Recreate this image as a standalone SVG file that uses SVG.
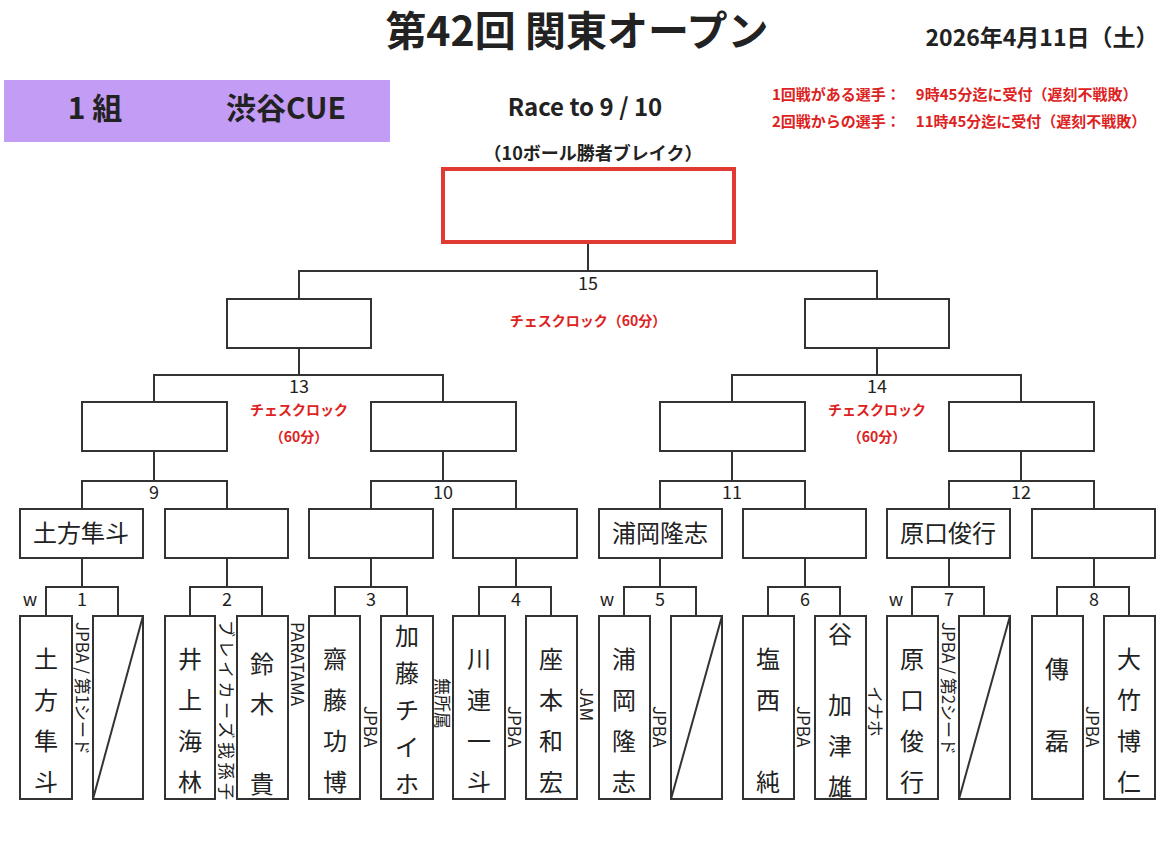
<svg xmlns="http://www.w3.org/2000/svg" width="1170" height="841" viewBox="0 0 1170 841">
<style>
text{font-family:"Noto Sans CJK JP","Noto Sans",sans-serif;fill:#222}
.b{fill:#fff;stroke:#333;stroke-width:2}
.l{fill:none;stroke:#333;stroke-width:2}
.n{font-size:18px;text-anchor:middle}
.nm{font-size:24px;text-anchor:middle}
.r{fill:#d22;font-weight:bold;font-size:15px}
.cc{fill:#d22;font-weight:bold;font-size:14px;text-anchor:middle}
.af{font-size:17px}
</style>
<rect width="1170" height="841" fill="#fff"/>
<g id="header">
<text x="577" y="46" font-size="41" font-weight="bold" text-anchor="middle">第42回 関東オープン</text>
<text x="1042" y="46" font-size="23" font-weight="bold" text-anchor="middle">2026年4月11日（土）</text>
<rect x="4" y="80" width="386" height="62" fill="#c39cf5"/>
<text x="95" y="119" font-size="30" font-weight="bold" text-anchor="middle">1 組</text>
<text x="286" y="119" font-size="30" font-weight="bold" text-anchor="middle">渋谷CUE</text>
<text x="585" y="116" font-size="24" font-weight="bold" text-anchor="middle">Race to 9 / 10</text>
<text x="593" y="160" font-size="18" font-weight="bold" text-anchor="middle">（10ボール勝者ブレイク）</text>
<text class="r" x="772" y="100">1回戦がある選手：　9時45分迄に受付（遅刻不戦敗）</text>
<text class="r" x="772" y="127">2回戦からの選手：　11時45分迄に受付（遅刻不戦敗）</text>
</g>
<g id="connectors">
<path class="l" d="M588 243V271M299 299V271H877V299M299 348V375M154 402V375H443V402M877 348V375M732 402V375H1021V402"/>
<path class="l" d="M154 451V481M82 509V481H227V509M443 451V481M371 509V481H516V509M732 451V481M660 509V481H805V509M1021 451V481M949 509V481H1094V509"/>
<path class="l" d="M82 558V587M46 616V587H118V616M227 558V587M190 616V587H262V616M371 558V587M335 616V587H407V616M516 558V587M479 616V587H551V616M660 558V587M624 616V587H696V616M805 558V587M768 616V587H840V616M949 558V587M912 616V587H984V616M1094 558V587M1057 616V587H1129V616"/>
</g>
<g id="labels">
<text class="n" x="588" y="290">15</text>
<text class="cc" x="588" y="326">チェスクロック（60分）</text>
<text class="n" x="299" y="393">13</text>
<text class="cc" x="299" y="415">チェスクロック</text>
<text class="cc" x="299" y="442">（60分）</text>
<text class="n" x="877" y="393">14</text>
<text class="cc" x="877" y="415">チェスクロック</text>
<text class="cc" x="877" y="442">（60分）</text>
<text class="n" x="154" y="499">9</text><text class="n" x="443" y="499">10</text><text class="n" x="732" y="499">11</text><text class="n" x="1021" y="499">12</text>
<text class="n" x="82" y="606">1</text><text class="n" x="227" y="606">2</text><text class="n" x="371" y="606">3</text><text class="n" x="516" y="606">4</text><text class="n" x="660" y="606">5</text><text class="n" x="805" y="606">6</text><text class="n" x="949" y="606">7</text><text class="n" x="1094" y="606">8</text>
<text class="n" x="30" y="606">w</text><text class="n" x="607" y="606">w</text><text class="n" x="896" y="606">w</text>
</g>
<g id="final"><rect x="443" y="169" width="291" height="73" fill="#fff" stroke="#e03a32" stroke-width="4"/></g>
<g id="r4"><rect class="b" x="227" y="299" width="144" height="49"/><rect class="b" x="805" y="299" width="144" height="49"/></g>
<g id="r3"><rect class="b" x="82" y="402" width="145" height="49"/><rect class="b" x="371" y="402" width="145" height="49"/><rect class="b" x="660" y="402" width="145" height="49"/><rect class="b" x="949" y="402" width="145" height="49"/></g>
<g id="r2">
<rect class="b" x="20" y="509" width="123" height="49"/><text class="nm" x="81" y="542" font-size="22">土方隼斗</text>
<rect class="b" x="165" y="509" width="123" height="49"/>
<rect class="b" x="309" y="509" width="124" height="49"/>
<rect class="b" x="453" y="509" width="124" height="49"/>
<rect class="b" x="599" y="509" width="123" height="49"/><text class="nm" x="660" y="542" font-size="22">浦岡隆志</text>
<rect class="b" x="743" y="509" width="123" height="49"/>
<rect class="b" x="887" y="509" width="123" height="49"/><text class="nm" x="948" y="542" font-size="22">原口俊行</text>
<rect class="b" x="1032" y="509" width="123" height="49"/>
</g>
<g id="players">
<rect class="b" x="20" y="616" width="52" height="183"/><rect class="b" x="93" y="616" width="50" height="183"/><path class="l" d="M93 799L143 616"/>
<rect class="b" x="165" y="616" width="50" height="183"/><rect class="b" x="237" y="616" width="51" height="183"/>
<rect class="b" x="309" y="616" width="51" height="183"/><rect class="b" x="381" y="616" width="52" height="183"/>
<rect class="b" x="453" y="616" width="52" height="183"/><rect class="b" x="526" y="616" width="51" height="183"/>
<rect class="b" x="599" y="616" width="51" height="183"/><rect class="b" x="671" y="616" width="51" height="183"/><path class="l" d="M671 799L722 616"/>
<rect class="b" x="743" y="616" width="51" height="183"/><rect class="b" x="815" y="616" width="51" height="183"/>
<rect class="b" x="887" y="616" width="51" height="183"/><rect class="b" x="959" y="616" width="51" height="183"/><path class="l" d="M959 799L1010 616"/>
<rect class="b" x="1032" y="616" width="51" height="183"/><rect class="b" x="1104" y="616" width="51" height="183"/>
<g>
<text class="nm"><tspan x="46" y="668">土</tspan><tspan x="46" y="709">方</tspan><tspan x="46" y="750">隼</tspan><tspan x="46" y="791">斗</tspan></text>
<text class="nm"><tspan x="190" y="668">井</tspan><tspan x="190" y="709">上</tspan><tspan x="190" y="750">海</tspan><tspan x="190" y="791">林</tspan></text>
<text class="nm"><tspan x="262" y="673">鈴</tspan><tspan x="262" y="713">木</tspan><tspan x="262" y="793">貴</tspan></text>
<text class="nm"><tspan x="335" y="668">齋</tspan><tspan x="335" y="709">藤</tspan><tspan x="335" y="750">功</tspan><tspan x="335" y="791">博</tspan></text>
<text class="nm"><tspan x="407" y="645">加</tspan><tspan x="407" y="682">藤</tspan><tspan x="407" y="719">チ</tspan><tspan x="407" y="756">イ</tspan><tspan x="407" y="793">ホ</tspan></text>
<text class="nm"><tspan x="479" y="668">川</tspan><tspan x="479" y="709">連</tspan><tspan x="479" y="750">一</tspan><tspan x="479" y="791">斗</tspan></text>
<text class="nm"><tspan x="551" y="668">座</tspan><tspan x="551" y="709">本</tspan><tspan x="551" y="750">和</tspan><tspan x="551" y="791">宏</tspan></text>
<text class="nm"><tspan x="624" y="668">浦</tspan><tspan x="624" y="709">岡</tspan><tspan x="624" y="750">隆</tspan><tspan x="624" y="791">志</tspan></text>
<text class="nm"><tspan x="768" y="668">塩</tspan><tspan x="768" y="709">西</tspan><tspan x="768" y="791">純</tspan></text>
<text class="nm"><tspan x="840" y="643">谷</tspan><tspan x="840" y="714">加</tspan><tspan x="840" y="755">津</tspan><tspan x="840" y="796">雄</tspan></text>
<text class="nm"><tspan x="912" y="668">原</tspan><tspan x="912" y="709">口</tspan><tspan x="912" y="750">俊</tspan><tspan x="912" y="791">行</tspan></text>
<text class="nm"><tspan x="1057" y="678">傳</tspan><tspan x="1057" y="750">磊</tspan></text>
<text class="nm"><tspan x="1129" y="668">大</tspan><tspan x="1129" y="709">竹</tspan><tspan x="1129" y="750">博</tspan><tspan x="1129" y="791">仁</tspan></text>
</g>
<g>
<text class="af" transform="translate(76 622) rotate(90)">JPBA / 第1シード</text>
<text class="af" transform="translate(220 620) rotate(90)" textLength="180" font-size="15">ブレイカーズ我孫子</text>
<text class="af" transform="translate(291 622) rotate(90)">PARATAMA</text>
<text class="af" transform="translate(364 706) rotate(90)">JPBA</text>
<text class="af" transform="translate(436 678) rotate(90)">無所属</text>
<text class="af" transform="translate(508 706) rotate(90)">JPBA</text>
<text class="af" transform="translate(580 688) rotate(90)">JAM</text>
<text class="af" transform="translate(653 706) rotate(90)">JPBA</text>
<text class="af" transform="translate(797 706) rotate(90)">JPBA</text>
<text class="af" transform="translate(869 686) rotate(90)">イナホ</text>
<text class="af" transform="translate(942 622) rotate(90)">JPBA / 第2シード</text>
<text class="af" transform="translate(1086 706) rotate(90)">JPBA</text>
</g>
</g>
</svg>
